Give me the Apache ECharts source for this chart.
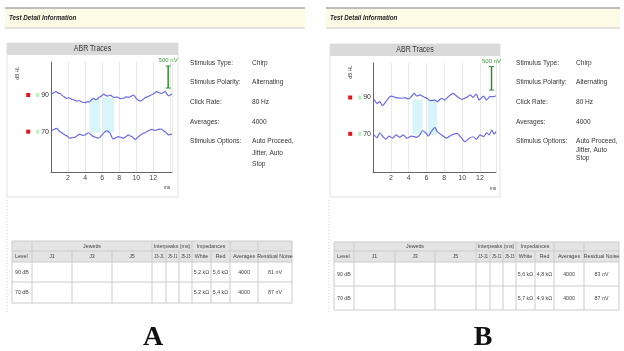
<!DOCTYPE html>
<html>
<head>
<meta charset="utf-8">
<script src="https://cdn.jsdelivr.net/npm/echarts@6/dist/echarts.min.js"></script>
<style>
  html, body { margin: 0; background: #fff; }
  #chart { width: 624px; height: 351px; }
</style>
</head>
<body>
<div id="chart"></div>
<script>
// traces: [ms, level + deflection]
const traceA90 = [[0.1,90.6],[0.4,91.5],[0.6,91.8],[0.85,91.0],[1.06,90.8],[1.3,89.8],[1.55,89.0],[1.85,88.2],[2.1,88.5],[2.4,87.7],[2.7,87.4],[3.0,86.7],[3.3,87.0],[3.6,86.2],[4.0,85.8],[4.3,86.4],[4.5,86.2],[4.75,87.4],[5.0,88.2],[5.2,87.5],[5.4,87.7],[5.6,88.6],[5.8,89.1],[6.0,89.8],[6.2,90.5],[6.45,89.6],[6.7,89.5],[7.0,89.9],[7.25,88.9],[7.5,88.7],[7.8,88.9],[8.1,88.0],[8.5,88.2],[8.8,89.0],[9.1,88.7],[9.4,89.3],[9.7,90.0],[9.9,88.8],[10.1,87.7],[10.3,87.0],[10.5,86.7],[10.8,87.6],[11.1,88.7],[11.4,89.2],[11.7,89.9],[12.0,90.5],[12.2,91.2],[12.4,91.8],[12.7,91.2],[13.0,90.9],[13.2,91.4],[13.4,91.8],[13.6,90.6],[13.8,89.5],[14.0,90.0],[14.2,90.5]];
const traceA70 = [[0.1,70.6],[0.4,71.3],[0.67,71.8],[0.85,70.9],[1.06,70.0],[1.35,69.1],[1.65,68.2],[1.9,67.6],[2.2,66.4],[2.5,66.8],[2.8,66.9],[3.1,67.9],[3.4,68.7],[3.7,68.0],[4.0,68.2],[4.2,68.9],[4.4,69.4],[4.7,68.3],[5.0,67.3],[5.3,66.8],[5.6,66.4],[5.9,67.8],[6.15,69.1],[6.35,69.9],[6.55,70.4],[6.75,70.0],[6.95,69.1],[7.1,67.4],[7.3,66.0],[7.6,66.7],[7.9,67.3],[8.2,66.9],[8.5,66.4],[8.8,67.4],[9.1,68.2],[9.3,67.6],[9.5,67.3],[9.7,66.4],[9.9,65.8],[10.2,67.0],[10.5,68.2],[10.9,69.2],[11.25,70.0],[11.55,70.8],[11.85,71.3],[12.1,70.7],[12.4,70.9],[12.7,71.4],[13.0,71.3],[13.2,70.5],[13.4,70.0],[13.6,69.0],[13.8,68.2],[14.0,68.5],[14.2,68.7]];
const traceB90 = [[0.1,89.0],[0.46,86.8],[0.76,87.7],[1.07,85.5],[1.44,87.7],[1.8,90.1],[2.1,90.8],[2.45,90.1],[2.8,89.8],[3.2,89.6],[3.6,89.9],[3.95,89.2],[4.3,90.5],[4.6,92.3],[4.95,90.8],[5.25,91.4],[5.8,90.1],[6.1,89.4],[6.4,88.3],[6.95,88.6],[7.2,87.7],[7.7,89.6],[8.07,88.6],[8.45,90.5],[9.0,92.3],[9.45,90.5],[9.95,89.0],[10.5,90.1],[10.9,91.4],[11.25,90.1],[11.6,91.9],[11.9,88.6],[12.4,90.8],[12.75,88.6],[13.1,90.5],[13.5,90.5],[13.8,91.0]];
const traceB70 = [[0.1,69.4],[0.46,67.9],[0.76,70.6],[1.14,68.4],[1.44,67.0],[1.8,68.8],[2.2,67.6],[2.56,69.4],[3.0,68.1],[3.4,69.4],[3.8,67.6],[4.3,68.8],[4.9,68.1],[5.25,69.4],[5.55,71.7],[5.9,70.6],[6.2,68.8],[6.6,71.7],[6.95,73.6],[7.2,71.2],[7.7,69.4],[8.25,67.6],[8.8,69.4],[9.4,70.3],[9.95,67.6],[10.3,65.7],[10.8,67.6],[11.25,68.4],[11.6,67.0],[12.0,69.4],[12.4,68.4],[12.75,70.6],[13.05,69.4],[13.3,72.1],[13.6,69.9],[13.8,71.2]];
// shaded latency windows [from ms, to ms] and their level span
const windowsA = [[4.5, 5.8], [6.1, 7.4]];
const windowsB = [[4.4, 5.55], [6.1, 7.2]];
const windowSpanA = [69.5, 88.5];
const windowSpanB = [69.7, 89.0];
// 500 nV scale bar [ms, level]
const scaleA = [[13.75, 105.8], [13.75, 93.8]];
const scaleB = [[13.3, 107.0], [13.3, 94.1]];
const levelMarks = [90, 70];

const stimLabels = ['Stimulus Type:', 'Stimulus Polarity:', 'Click Rate:', 'Averages:', 'Stimulus Options:'];
const stimValues = ['Chirp', 'Alternating', '80 Hz', '4000', 'Auto Proceed,\nJitter, Auto\nStop'];
const tableGroups = ['Jewetts', 'Interpeaks (ms)', 'Impedances'];
const tableCols = ['Level', 'J1', 'J3', 'J5', 'J3-J1', 'J5-J1', 'J5-J3', 'White', 'Red', 'Averages', 'Residual Noise'];
const rowLevels = ['90 dB', '70 dB'];
const whiteA = ['5,2 kΩ', '5,2 kΩ'];
const redA = ['5,6 kΩ', '5,4 kΩ'];
const avgA = ['4000', '4000'];
const noiseA = ['81 nV', '87 nV'];
const whiteB = ['5,6 kΩ', '5,7 kΩ'];
const redB = ['4,8 kΩ', '4,9 kΩ'];
const avgB = ['4000', '4000'];
const noiseB = ['83 nV', '87 nV'];
const panelLabels = ['A', 'B'];

const SANS = '"Liberation Sans", Arial, sans-serif';
const NARROW = 0.82; // horizontal squeeze, the screenshots use a condensed face

// page layout of the two screenshots
const layoutA = {
  header: [5, 8, 300], box: [7, 43, 171, 154], boxTitle: 49,
  stimX: [190, 252], stimY: [63, 82, 102, 122, 141], stimLine: 11.5,
  cols: [12, 32, 72, 112, 152, 166, 179, 192, 211, 230, 258, 292],
  rows: [241, 251, 262, 282, 303],
  label: [153, 338], dbhl: [17, 73], ms: [167, 187], edge: 7,
};
const layoutB = {
  header: [326, 8, 294], box: [330, 44, 170, 153], boxTitle: 50,
  stimX: [516, 576], stimY: [63, 82, 102, 122, 141], stimLine: 8.5,
  cols: [334, 354, 395, 435, 476, 490, 503, 516, 535, 554, 584, 619],
  rows: [242, 251, 262, 286, 310],
  label: [483, 338], dbhl: [350, 72], ms: [493, 188], edge: 329,
};

const chart = echarts.init(document.getElementById('chart'), null, { renderer: 'canvas' });

function text(x, y, s, font, fill, align, valign, sx) {
  return {
    type: 'text', silent: true, x, y, scaleX: sx || NARROW,
    style: { text: s, x: 0, y: 0, font, fill: fill || '#333', align: align || 'left', verticalAlign: valign || 'middle',
      textAlign: align || 'left', textVerticalAlign: valign || 'middle' },
  };
}
function rect(x, y, w, h, fill, stroke) {
  return { type: 'rect', silent: true, shape: { x, y, width: w, height: h },
    style: { fill: fill || 'none', stroke: stroke || null, lineWidth: 1 } };
}
function line(x1, y1, x2, y2, stroke, w, dash) {
  return { type: 'line', silent: true, shape: { x1, y1, x2, y2 },
    style: { stroke: stroke || '#cfcfcf', lineWidth: w || 1, lineDash: dash || null } };
}

function panelGraphics(L, white, red, avg, noise, label) {
  const els = [];
  const [hx, hy, hw] = L.header;
  els.push(rect(hx, hy, hw, 20, '#fdfbe6'));
  els.push(line(hx, hy, hx + hw, hy, '#a8a8a8', 1.5));
  els.push(line(hx, hy + 20, hx + hw, hy + 20, '#c9c9c9', 1));
  els.push(text(hx + 4, hy + 10, 'Test Detail Information', 'italic bold 8px ' + SANS, '#222', 'left', 'middle', 0.78));

  const [bx, by, bw, bh] = L.box;
  els.push(rect(bx, by, bw, bh, null, '#e2e2e2'));
  els.push(rect(bx, by, bw, 12, '#dadada'));
  els.push(text(bx + bw / 2, L.boxTitle, 'ABR Traces', '8.5px ' + SANS, '#333', 'center'));
  const db = text(L.dbhl[0], L.dbhl[1], 'dB HL', '6px ' + SANS, '#444', 'center');
  db.rotation = Math.PI / 2;
  els.push(db);
  els.push(text(L.ms[0], L.ms[1], 'ms', '6px ' + SANS, '#444', 'center'));

  const h = L.stimLine;
  stimLabels.forEach((s, i) => {
    const a = text(L.stimX[0], L.stimY[i] - h / 2, s, '8px ' + SANS, '#333', 'left', 'top');
    const b = text(L.stimX[1], L.stimY[i] - h / 2, stimValues[i], '8px ' + SANS, '#333', 'left', 'top');
    a.style.lineHeight = h;
    b.style.lineHeight = h;
    els.push(a, b);
  });

  // table
  const c = L.cols, r = L.rows, F = '6px ' + SANS, TS = 0.88;
  els.push(rect(c[0], r[0], c[11] - c[0], r[2] - r[0], '#e4e4e4'));
  els.push(rect(c[0], r[2], c[11] - c[0], r[4] - r[2], '#ffffff'));
  r.forEach(y => els.push(line(c[0], y, c[11], y, '#cccccc')));
  c.forEach((x, i) => {
    const full = [0, 1, 4, 7, 9, 10, 11].includes(i);
    els.push(line(x, full ? r[0] : r[1], x, r[4], '#cccccc'));
  });
  const groupSpans = [[1, 4], [4, 7], [7, 9]];
  tableGroups.forEach((g, i) => {
    const [a, b] = groupSpans[i];
    els.push(text((c[a] + c[b]) / 2, (r[0] + r[1]) / 2, g, F, '#444', 'center', 'middle', TS));
  });
  tableCols.forEach((t, i) => {
    if (i === 0) els.push(text(c[0] + 3, (r[1] + r[2]) / 2, t, F, '#444', 'left', 'middle', TS));
    else els.push(text((c[i] + c[i + 1]) / 2, (r[1] + r[2]) / 2, t, i >= 4 && i <= 6 ? '5.5px ' + SANS : F, '#444', 'center', 'middle', i >= 4 && i <= 6 ? 0.72 : TS));
  });
  rowLevels.forEach((lv, j) => {
    const y = (r[j + 2] + r[j + 3]) / 2;
    els.push(text(c[0] + 3, y, lv, F, '#444', 'left', 'middle', TS));
    els.push(text((c[7] + c[8]) / 2, y, white[j], F, '#444', 'center', 'middle', TS));
    els.push(text((c[8] + c[9]) / 2, y, red[j], F, '#444', 'center', 'middle', TS));
    els.push(text((c[9] + c[10]) / 2, y, avg[j], F, '#444', 'center', 'middle', TS));
    els.push(text((c[10] + c[11]) / 2, y, noise[j], F, '#444', 'center', 'middle', TS));
  });
  els.push(line(L.edge, 200, L.edge, 312, '#d0d0d0', 1, [1, 2]));
  els.push(text(L.label[0], L.label[1], label, 'bold 28px "Liberation Serif", "Times New Roman", serif', '#111', 'center', 'middle', 1));
  return els;
}

function xAxisFor(gi, max) {
  return {
    gridIndex: gi, type: 'value', min: 0, max, interval: 2,
    axisLine: { lineStyle: { color: '#666', width: 1 } },
    axisTick: { show: false },
    splitLine: { show: true, lineStyle: { color: '#e9e9e9' } },
    axisLabel: { color: '#444', fontSize: 7, fontFamily: SANS, margin: 3,
      showMinLabel: false, showMaxLabel: false,
      formatter: v => (v > 0 && v < 14 && v % 2 === 0 ? String(v) : '') },
  };
}
function yAxisFor(gi, min, max) {
  return {
    gridIndex: gi, type: 'value', min, max, interval: 1,
    axisLine: { show: true, lineStyle: { color: '#666', width: 1 } },
    axisTick: { show: false },
    splitLine: { show: false },
    axisLabel: {
      margin: 2, showMinLabel: false, showMaxLabel: false,
      formatter: v => (levelMarks.includes(v) ? '{r| }{s| }{g| }{t| }{n|' + v + '}' : ''),
      rich: {
        r: { width: 4, height: 4, backgroundColor: '#e5141c' },
        g: { width: 3, height: 4, backgroundColor: '#b9f1b9' },
        s: { width: 6 }, t: { width: 2 },
        n: { fontSize: 7, color: '#333', fontFamily: SANS },
      },
    },
  };
}
function traceSeries(gi, data, windows, span) {
  const s = {
    type: 'line', xAxisIndex: gi, yAxisIndex: gi, data, showSymbol: false, smooth: 0.2,
    lineStyle: { color: '#6c6ce0', width: 1.2 }, silent: true, z: 3,
  };
  if (windows) {
    s.markArea = {
      silent: true, itemStyle: { color: '#d8f5fb' },
      data: windows.map(w => [{ xAxis: w[0], yAxis: span[0] }, { xAxis: w[1], yAxis: span[1] }]),
    };
  }
  return s;
}
function scaleSeries(gi, data) {
  return {
    type: 'line', xAxisIndex: gi, yAxisIndex: gi, silent: true, z: 4,
    symbol: 'rect', symbolSize: [5, 1], showSymbol: true,
    itemStyle: { color: '#2f8f2f' }, lineStyle: { color: '#2f8f2f', width: 1.5 },
    data: [
      { value: data[0], label: { show: true, formatter: '500 nV', position: 'top', distance: 2, fontSize: 6, color: '#3b9b3b', fontFamily: SANS } },
      { value: data[1] },
    ],
  };
}

chart.setOption({
  backgroundColor: '#ffffff',
  animation: false,
  grid: [
    { left: 51, top: 62, width: 121, height: 110 },
    { left: 373, top: 63, width: 123, height: 109 },
  ],
  xAxis: [xAxisFor(0, 14.2), xAxisFor(1, 13.8)],
  yAxis: [yAxisFor(0, 48, 108), yAxisFor(1, 49, 109)],
  series: [
    traceSeries(0, traceA90, windowsA, windowSpanA),
    traceSeries(0, traceA70),
    scaleSeries(0, scaleA),
    traceSeries(1, traceB90, windowsB, windowSpanB),
    traceSeries(1, traceB70),
    scaleSeries(1, scaleB),
  ],
  graphic: [
    ...panelGraphics(layoutA, whiteA, redA, avgA, noiseA, panelLabels[0]),
    ...panelGraphics(layoutB, whiteB, redB, avgB, noiseB, panelLabels[1]),
  ],
});
window.addEventListener('resize', () => chart.resize());
</script>
</body>
</html>
